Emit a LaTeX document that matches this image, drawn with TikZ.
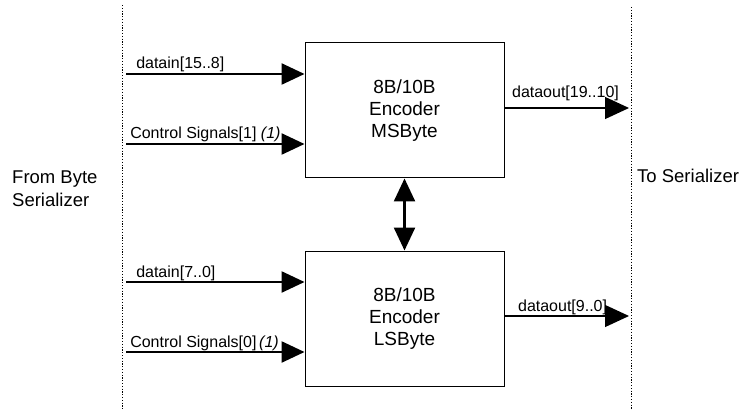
\documentclass[tikz,border=0pt]{standalone}
\usepackage{fontspec}
\setmainfont{Liberation Sans}
\usetikzlibrary{arrows.meta,calc,positioning}

\begin{document}
\begin{tikzpicture}[
  x=1pt,y=1pt,
  font=\fontsize{16}{20}\selectfont,
  encbox/.style={draw,line width=1pt,minimum width=199pt,minimum height=135pt,align=center,
    font=\fontsize{19}{22}\selectfont},
  side/.style={inner sep=0pt,font=\fontsize{18.5}{23}\selectfont},
  inarrow/.style={-{Triangle[length=23pt,width=21pt]},line width=2.5pt},
  outarrow/.style={-{Triangle[length=24pt,width=22pt]},line width=1.2pt},
  boundary/.style={line width=1pt,dash pattern=on 1.2pt off 1.6pt},
  sig/.style={anchor=base west,inner sep=0pt}
]
  \useasboundingbox (0,0) rectangle (754,410);
  % boundaries
  \coordinate (lefttop) at (122,405);
  \coordinate (leftbot) at (122,0);
  \coordinate (righttop) at (631,403);
  \coordinate (rightbot) at (631,0);
  \draw[boundary] (lefttop) -- (leftbot);
  \draw[boundary] (righttop) -- (rightbot);
  \node[side,align=left,anchor=west] (from) at (12,221)
    {From Byte\\Serializer};
  \node[side,anchor=west] (to) at (637,234) {To Serializer};

  % encoders
  \node[encbox] (msb) at (404.5,299.5) {8B/10B\\Encoder\\MSByte};
  \node[encbox] (lsb) at (404.5,91.5) {8B/10B\\Encoder\\LSByte};
  \draw[{Triangle[length=23pt,width=21pt]}-{Triangle[length=23pt,width=21pt]},line width=2.5pt]
    (msb.south) -- (lsb.north);

  % inputs
  \coordinate (in1) at (126,336);
  \coordinate (in2) at (126,266);
  \coordinate (in3) at (126,128);
  \coordinate (in4) at (126,58);
  \draw[inarrow] (in1) --
    node[sig,pos=0,xshift=9pt,yshift=5pt] {datain[15..8]} (msb.west |- in1);
  \draw[inarrow] (in2) --
    node[sig,pos=0,xshift=3pt,yshift=5pt] {Control Signals[1] \textit{(1)}} (msb.west |- in2);
  \draw[inarrow] (in3) --
    node[sig,pos=0,xshift=9pt,yshift=5pt] {datain[7..0]} (lsb.west |- in3);
  \draw[inarrow] (in4) --
    node[sig,pos=0,xshift=3pt,yshift=5pt] {Control Signals[0]\,\textit{(1)}} (lsb.west |- in4);

  % outputs
  \coordinate (out1) at (629,302);
  \coordinate (out2) at (629,94);
  \draw[outarrow] (msb.east |- out1) --
    node[sig,pos=0,xshift=7pt,yshift=10pt] {dataout[19..10]} (out1);
  \draw[outarrow] (lsb.east |- out2) --
    node[sig,pos=0,xshift=13pt,yshift=5pt] {dataout[9..0]} (out2);
\end{tikzpicture}
\end{document}
